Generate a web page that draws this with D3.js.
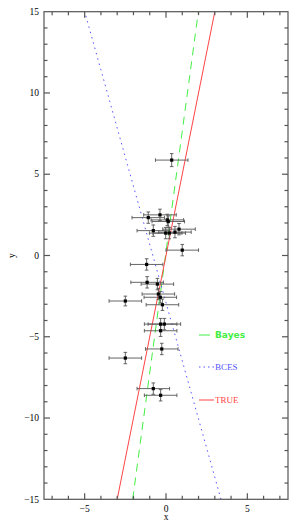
<!DOCTYPE html>
<html><head><meta charset="utf-8">
<script src="https://cdn.jsdelivr.net/npm/d3@7"></script>
<style>body{margin:0;background:#fff}svg{display:block}</style>
</head><body>
<script>
const xs   = [0.35,-1.09,-0.37,0.08,0.14,-0.78,-0.02,0.20,0.55,0.80,1.00,-1.19,-1.16,-0.53,-0.47,-0.35,-0.22,-2.50,-0.33,-0.10,-0.33,-0.26,-2.50,-0.78,-0.33];
const ys   = [5.87,2.33,2.50,2.19,2.09,1.53,1.38,1.38,1.44,1.62,0.33,-0.55,-1.65,-1.76,-2.37,-2.57,-3.03,-2.80,-4.22,-4.22,-4.63,-5.75,-6.31,-8.19,-8.60];
const xerr = [1.0,1.0,1.0,1.0,1.0,1.0,1.0,1.0,1.0,1.0,1.0,1.0,1.0,1.0,1.0,1.0,1.0,1.0,1.0,1.0,1.0,1.0,1.0,1.0,1.0];
const yerr = [0.40,0.35,0.35,0.35,0.35,0.35,0.35,0.35,0.35,0.35,0.35,0.35,0.35,0.35,0.35,0.35,0.35,0.30,0.35,0.35,0.35,0.35,0.35,0.35,0.35];
const lineNames = ["Bayes","BCES","TRUE"];
const lineSlopes = [7.43,-3.58,5.0];
const lineIntercepts = [0.22,-2.9,0.0];
const lineColors = ["#44ee44","#5555ff","#ff4444"];
const xTicks = [-5,0,5];
const yTicks = [-15,-10,-5,0,5,10,15];

const W=300,H=523;
const svg=d3.select("body").append("svg").attr("width",W).attr("height",H);
const L=44,R=288,T=11.7,B=499.3;
const x=d3.scaleLinear().domain([-7.5,7.5]).range([L,R]);
const y=d3.scaleLinear().domain([-15,15]).range([B,T]);
const axisCol="#555";
const serif="'Liberation Serif','DejaVu Serif',serif";

svg.append("clipPath").attr("id","c").append("rect").attr("x",L).attr("y",T).attr("width",R-L).attr("height",B-T);
const g=svg.append("g").attr("clip-path","url(#c)");

// error bars
const eb=svg.append("g").attr("stroke","#555").attr("stroke-width",0.9);
xs.forEach((v,i)=>{
  const cx=x(v),cy=y(ys[i]);
  const x0=x(v-xerr[i]),x1=x(v+xerr[i]),y0=y(ys[i]-yerr[i]),y1=y(ys[i]+yerr[i]);
  eb.append("line").attr("x1",x0).attr("x2",x1).attr("y1",cy).attr("y2",cy);
  eb.append("line").attr("x1",x0).attr("x2",x0).attr("y1",cy-1.8).attr("y2",cy+1.8);
  eb.append("line").attr("x1",x1).attr("x2",x1).attr("y1",cy-1.8).attr("y2",cy+1.8);
  eb.append("line").attr("x1",cx).attr("x2",cx).attr("y1",y0).attr("y2",y1);
  eb.append("line").attr("x1",cx-1.8).attr("x2",cx+1.8).attr("y1",y0).attr("y2",y0);
  eb.append("line").attr("x1",cx-1.8).attr("x2",cx+1.8).attr("y1",y1).attr("y2",y1);
});
svg.append("g").selectAll("rect").data(xs).join("rect")
  .attr("x",(d)=>x(d)-1.6).attr("y",(d,i)=>y(ys[i])-1.6).attr("width",3.2).attr("height",3.2).attr("fill","#000");

// fit lines
const dashes=["8,6","1.5,4","none"];
lineNames.forEach((n,i)=>{
  const m=lineSlopes[i],b=lineIntercepts[i];
  const ya=-15,yb=15;
  g.append("line").attr("x1",x((ya-b)/m)).attr("y1",y(ya)).attr("x2",x((yb-b)/m)).attr("y2",y(yb))
   .attr("stroke",lineColors[i]).attr("stroke-width",1).attr("stroke-dasharray",dashes[i]);
});

// frame and ticks
const fr=svg.append("g").attr("stroke",axisCol).attr("stroke-width",1.2);
fr.append("rect").attr("x",L).attr("y",T).attr("width",R-L).attr("height",B-T).attr("fill","none");
d3.range(-7,8).forEach(v=>{
  const len=(v%5===0)?6:3.5;
  fr.append("line").attr("x1",x(v)).attr("x2",x(v)).attr("y1",B).attr("y2",B-len);
  fr.append("line").attr("x1",x(v)).attr("x2",x(v)).attr("y1",T).attr("y2",T+len);
});
d3.range(-14,15).forEach(v=>{
  const len=(v%5===0)?6:3.5;
  fr.append("line").attr("y1",y(v)).attr("y2",y(v)).attr("x1",L).attr("x2",L+len);
  fr.append("line").attr("y1",y(v)).attr("y2",y(v)).attr("x1",R).attr("x2",R-len);
});
const fmt=v=>(v<0?"\u2212":"")+Math.abs(v);
svg.append("g").selectAll("text").data(yTicks).join("text")
  .attr("x",39).attr("y",d=>y(d)+3.2).attr("text-anchor","end")
  .attr("font-family",serif).attr("font-size",9.5).attr("fill","#000").text(fmt);
svg.append("g").selectAll("text").data(xTicks).join("text")
  .attr("x",d=>x(d)).attr("y",511.5).attr("text-anchor","middle")
  .attr("font-family",serif).attr("font-size",9.5).attr("fill","#000").text(fmt);
svg.append("text").attr("x",x(0)).attr("y",520).attr("text-anchor","middle")
  .attr("font-family",serif).attr("font-size",9.5).text("x");
svg.append("text").attr("transform",`translate(15,${y(0)}) rotate(-90)`).attr("text-anchor","middle")
  .attr("font-family",serif).attr("font-size",9.5).text("y");

// legend
const legY=[335,367,400];
lineNames.forEach((n,i)=>{
  svg.append("line").attr("x1",199).attr("x2",i===0?210:214).attr("y1",legY[i]).attr("y2",legY[i])
   .attr("stroke",lineColors[i]).attr("stroke-width",1).attr("stroke-dasharray",i===1?"1.5,3":"none");
  svg.append("text").attr("x",215).attr("y",legY[i]+3).attr("font-family",i===0?"'DejaVu Sans',sans-serif":serif)
   .attr("font-weight",i===0?"bold":"normal").attr("font-size",9).attr("fill",lineColors[i]).text(n);
});
</script>
</body></html>
